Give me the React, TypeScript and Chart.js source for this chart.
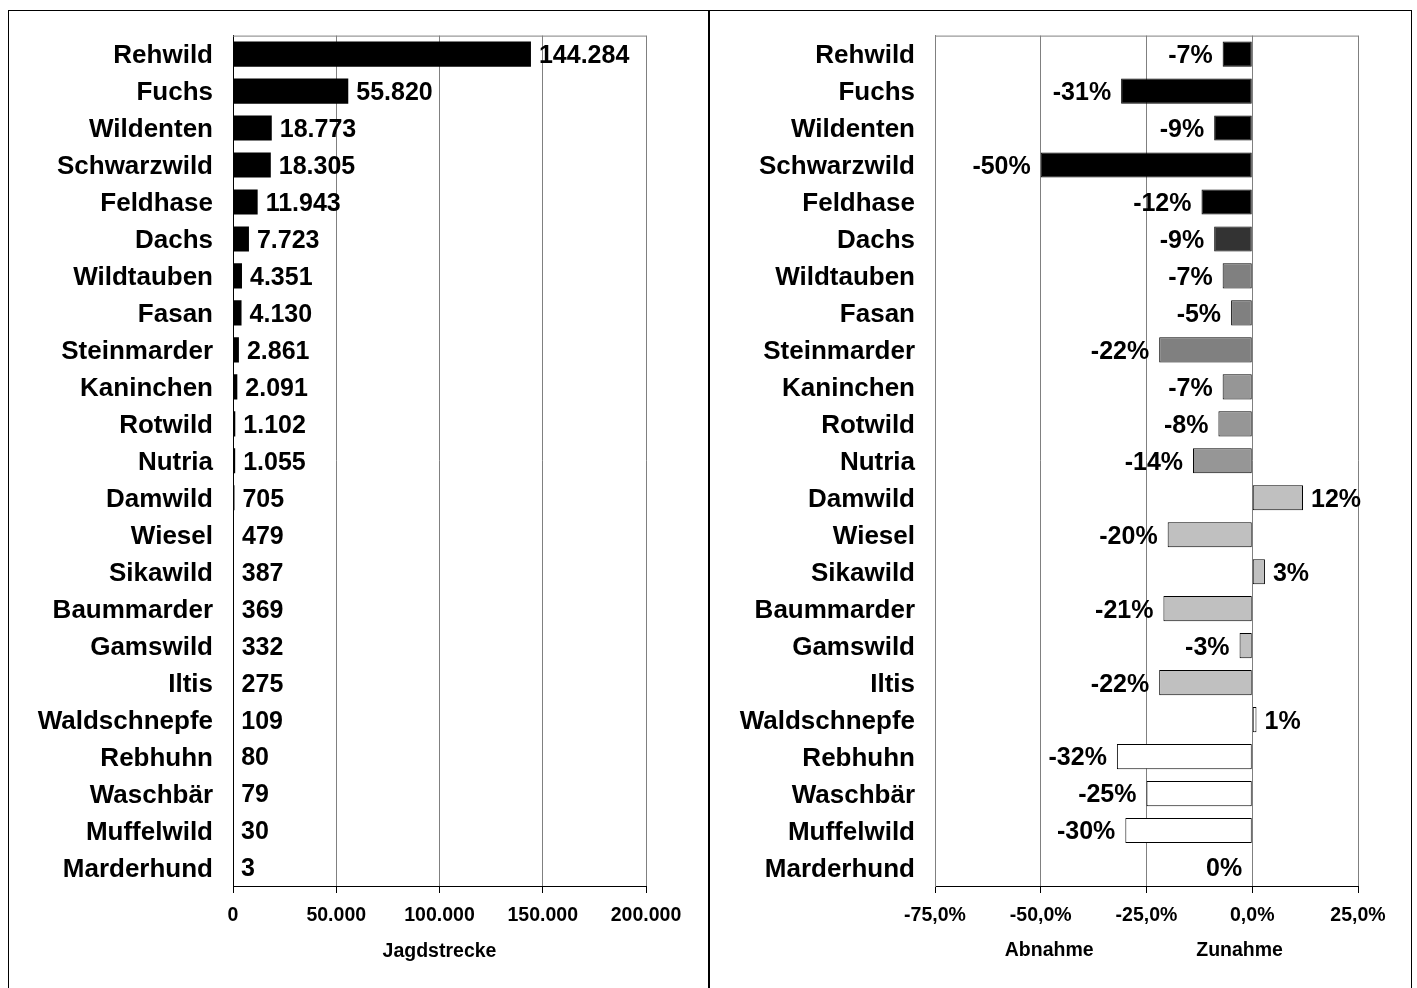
import React, { useEffect, useRef } from "react";
import { Chart, registerables } from "chart.js";
Chart.register(...registerables);

const categories = ["Rehwild", "Fuchs", "Wildenten", "Schwarzwild", "Feldhase", "Dachs", "Wildtauben", "Fasan", "Steinmarder", "Kaninchen", "Rotwild", "Nutria", "Damwild", "Wiesel", "Sikawild", "Baummarder", "Gamswild", "Iltis", "Waldschnepfe", "Rebhuhn", "Waschbär", "Muffelwild", "Marderhund"];
const jagdstrecke = [144284, 55820, 18773, 18305, 11943, 7723, 4351, 4130, 2861, 2091, 1102, 1055, 705, 479, 387, 369, 332, 275, 109, 80, 79, 30, 3];
const veraenderung = [-7, -31, -9, -50, -12, -9, -7, -5, -22, -7, -8, -14, 12, -20, 3, -21, -3, -22, 1, -32, -25, -30, 0];
const changeColors = ["#000000", "#000000", "#000000", "#000000", "#000000", "#333333", "#808080", "#808080", "#808080", "#969696", "#969696", "#969696", "#C0C0C0", "#C0C0C0", "#C0C0C0", "#C0C0C0", "#C0C0C0", "#C0C0C0", "#FFFFFF", "#FFFFFF", "#FFFFFF", "#FFFFFF", "#FFFFFF"];
const streckeAxis = { min: 0, max: 200000, step: 50000, title: "Jagdstrecke" };
const changeAxis = { min: -75, max: 25, step: 25 };
const changeTitles = [{ text: "Abnahme", at: -48 }, { text: "Zunahme", at: -3 }];

const FONT = "'Liberation Sans', Arial, sans-serif";
const fmtDE = (n: number) => String(n).replace(/\B(?=(\d{3})+(?!\d))/g, ".");
const fmtPct1 = (n: number) => n.toFixed(1).replace(".", ",") + "%";

const valueLabels = (fmt: (v: number) => string) => ({
  id: "valueLabels",
  afterDatasetsDraw(chart: any) {
    const ctx = chart.ctx;
    const meta = chart.getDatasetMeta(0);
    const data = chart.data.datasets[0].data as number[];
    ctx.save();
    ctx.font = `bold 25px ${FONT}`;
    ctx.fillStyle = "#000";
    ctx.textBaseline = "middle";
    meta.data.forEach((el: any, i: number) => {
      const v = data[i];
      if (v <= 0) {
        ctx.textAlign = "right";
        ctx.fillText(fmt(v), el.x - 10, el.y + 2);
      } else {
        ctx.textAlign = "left";
        ctx.fillText(fmt(v), el.x + 8, el.y + 2);
      }
    });
    ctx.restore();
  },
});

const frame = {
  id: "frame",
  beforeDatasetsDraw(chart: any) {
    const { ctx, chartArea } = chart;
    ctx.save();
    ctx.strokeStyle = "#808080";
    ctx.lineWidth = 1;
    ctx.beginPath();
    ctx.moveTo(chartArea.left, chartArea.top + 0.5);
    ctx.lineTo(chartArea.right + 0.5, chartArea.top + 0.5);
    ctx.stroke();
    ctx.restore();
  },
};

const sideTitles = {
  id: "sideTitles",
  afterDraw(chart: any) {
    const { ctx } = chart;
    const x = chart.scales.x;
    ctx.save();
    ctx.font = `bold 19.5px ${FONT}`;
    ctx.fillStyle = "#000";
    ctx.textAlign = "center";
    ctx.textBaseline = "middle";
    changeTitles.forEach((t) => ctx.fillText(t.text, x.getPixelForValue(t.at), 951));
    ctx.restore();
  },
};

function baseOptions(yWidth: number, padRight: number, xMin: number, xMax: number, step: number, tickFmt: (v: number) => string, yBorderColor: string, title?: string) {
  return {
    indexAxis: "y" as const,
    animation: false as const,
    responsive: false,
    maintainAspectRatio: false,
    layout: { padding: { left: 0, right: padRight, top: 34, bottom: 0 } },
    plugins: { legend: { display: false }, tooltip: { enabled: false } },
    scales: {
      x: {
        type: "linear" as const,
        min: xMin,
        max: xMax,
        afterFit: (s: any) => { s.height = 102; },
        ticks: {
          stepSize: step,
          padding: 11,
          color: "#000",
          font: { family: FONT, size: 19.5, weight: "bold" as const },
          callback: (v: any) => tickFmt(Number(v)),
        },
        grid: { color: "#808080", lineWidth: 1, tickColor: "#000", tickLength: 7, drawTicks: true },
        border: { display: true, color: "#000", width: 1 },
        title: title
          ? { display: true, text: title, color: "#000", font: { family: FONT, size: 19.5, weight: "bold" as const }, padding: { top: 0, bottom: 25 } }
          : { display: false },
      },
      y: {
        type: "category" as const,
        afterFit: (s: any) => { s.width = yWidth; },
        ticks: { padding: 20, labelOffset: 2, color: "#000", font: { family: FONT, size: 26, weight: "bold" as const } },
        grid: { display: false, drawTicks: false },
        border: { display: true, color: yBorderColor, width: 1 },
      },
    },
  };
}

export default function App() {
  const leftRef = useRef<HTMLCanvasElement>(null);
  const rightRef = useRef<HTMLCanvasElement>(null);

  useEffect(() => {
    const left = new Chart(leftRef.current!, {
      type: "bar",
      data: {
        labels: categories,
        datasets: [{ data: jagdstrecke, backgroundColor: "#000", borderWidth: 0, barPercentage: 0.68, categoryPercentage: 1 }],
      },
      options: baseOptions(233, 63, streckeAxis.min, streckeAxis.max, streckeAxis.step, fmtDE, "#000", streckeAxis.title) as any,
      plugins: [frame, valueLabels((v) => fmtDE(v))],
    });
    const right = new Chart(rightRef.current!, {
      type: "bar",
      data: {
        labels: categories,
        datasets: [{ data: veraenderung, backgroundColor: changeColors, borderColor: "#000", borderWidth: 1, borderSkipped: false, barPercentage: 0.68, categoryPercentage: 1 }],
      },
      options: baseOptions(226, 54, changeAxis.min, changeAxis.max, changeAxis.step, fmtPct1, "#808080") as any,
      plugins: [frame, sideTitles, valueLabels((v) => v + "%")],
    });
    return () => {
      left.destroy();
      right.destroy();
    };
  }, []);

  return (
    <div style={{ position: "absolute", left: 0, top: 0, width: 1417, height: 988, overflow: "hidden", background: "#fff" }}>
      <canvas ref={leftRef} width={709} height={988} style={{ position: "absolute", left: 0, top: 0, width: 709, height: 988 }} />
      <canvas ref={rightRef} width={703} height={988} style={{ position: "absolute", left: 709, top: 0, width: 703, height: 988 }} />
      <div style={{ position: "absolute", left: 8, top: 10, width: 701, height: 978, boxSizing: "border-box", borderTop: "1px solid #000", borderLeft: "1px solid #000", borderRight: "1px solid #000", pointerEvents: "none" }} />
      <div style={{ position: "absolute", left: 709, top: 10, width: 703, height: 978, boxSizing: "border-box", borderTop: "1px solid #000", borderLeft: "1px solid #000", borderRight: "1px solid #000", pointerEvents: "none" }} />
    </div>
  );
}
